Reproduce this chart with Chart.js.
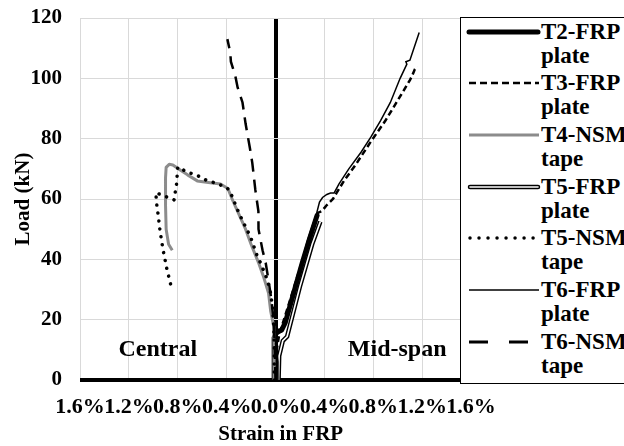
<!DOCTYPE html>
<html>
<head>
<meta charset="utf-8">
<script src="https://cdn.jsdelivr.net/npm/chart.js@4.4.1/dist/chart.umd.min.js"></script>
<style>
  html, body { margin: 0; padding: 0; background: #fff; overflow: hidden; }
  #wrap { position: relative; width: 624px; height: 446px; overflow: hidden; }
  #legend { position: absolute; left: 460px; top: 17px; width: 180px; height: 365px;
            border: 1.5px solid #000; background: #fff;
            font: bold 23px 'Liberation Serif', 'Times New Roman', serif; color: #000; }
  .row { position: absolute; left: 0; width: 180px; height: 50px; }
  .row svg { position: absolute; left: 5px; top: 0; }
  .row div { position: absolute; left: 80px; top: 0; line-height: 24px; white-space: nowrap; }
</style>
</head>
<body>
<div id="wrap">
  <canvas id="chart" width="624" height="446"></canvas>
  <div id="legend"></div>
</div>
<script>
// strain in % (negative = central gauge, plotted to the left), load in kN
var xTicks = [-1.6, -1.2, -0.8, -0.4, 0, 0.4, 0.8, 1.2, 1.6];
var yTicks = [0, 20, 40, 60, 80, 100, 120];

var t2Strain = [-0.01, -0.012, -0.01, 0.01, 0.05, 0.08, 0.15, 0.22, 0.28, 0.34];
var t2Load   = [0, 8, 14, 16, 16.5, 19, 29, 39, 47, 54.5];

var t3Strain = [0.01, 0.01, 0.03, 0.1, 0.2, 0.3, 0.35, 0.38, 0.42, 0.47, 0.5, 0.56, 0.65, 0.78, 0.9, 1.02, 1.1, 1.12, 1.14, 1.16];
var t3Load   = [0, 10, 15, 24, 37, 50, 55.5, 56, 58, 60, 62, 66, 71, 79, 86, 94, 99.4, 101, 103, 104];

var t4Strain = [-0.01, -0.012, -0.014, -0.04, -0.057, -0.1, -0.14, -0.2, -0.245, -0.3, -0.35, -0.39, -0.45, -0.55, -0.64, -0.72, -0.78, -0.84, -0.87, -0.895, -0.9, -0.9, -0.895, -0.875, -0.845];
var t4Load   = [0, 10, 17.6, 23, 28.8, 34.5, 39, 45, 50, 55, 59.5, 63.5, 65, 65.5, 66, 68, 69.6, 71.3, 71.5, 70.5, 67, 58, 50, 45, 43];

var t5fStrain = [0.025, 0.03, 0.06, 0.095, 0.2, 0.3, 0.367];
var t5fLoad   = [0, 8, 13, 14.4, 31, 45, 52.5];

var t5nStrain = [-0.01, -0.01, -0.015, -0.024, -0.04, -0.065, -0.122, -0.147, -0.204, -0.26, -0.3, -0.367, -0.394, -0.47, -0.57, -0.65, -0.73, -0.78, -0.8, -0.81, -0.83, -0.98, -0.97, -0.96, -0.944, -0.92, -0.89, -0.857, -0.843];
var t5nLoad   = [0, 12, 18, 24, 28.8, 33, 38.8, 40.8, 47.4, 52, 55.4, 62, 63.6, 65, 66.3, 68, 69, 70.3, 70.6, 65, 59.7, 62.1, 57.4, 54.7, 49.1, 43.1, 37, 31.5, 30.4];

var t6fStrain = [0.02, 0.02, 0.0, 0.01, 0.05, 0.09, 0.14, 0.2, 0.26, 0.3, 0.335, 0.36, 0.385, 0.42, 0.45, 0.48, 0.52, 0.6, 0.7, 0.78, 0.86, 0.94, 1.02, 1.075, 1.067, 1.1, 1.176];
var t6fLoad   = [0, 6, 12, 15, 16, 20, 28, 37, 46, 51, 55, 59, 60.5, 61.5, 62, 62, 65, 70, 75.5, 80.5, 86, 92, 100, 104.7, 105.5, 106, 115.2];

var t6nStrain = [0, -0.008, -0.016, -0.033, -0.057, -0.08, -0.106, -0.125, -0.139, -0.14, -0.165, -0.19, -0.21, -0.245, -0.27, -0.31, -0.33, -0.365, -0.37, -0.394];
var t6nLoad   = [0, 13, 20, 26.5, 33, 38.8, 43, 47, 50, 56, 63, 72, 77, 85, 92, 97, 101, 105.5, 108.5, 113];

var notes = [
  { text: 'Central', x: -0.963, y: 9.9 },
  { text: 'Mid-span', x: 0.996, y: 9.9 }
];

var FONT = "'Liberation Serif', 'Times New Roman', serif";

function pts(xs, ys) {
  return xs.map(function(x, i) { return { x: x, y: ys[i] }; });
}

function series(label, xs, ys, style, order) {
  return Object.assign({
    label: label,
    data: pts(xs, ys),
    showLine: true,
    pointRadius: 0,
    tension: 0,
    borderColor: '#000',
    borderWidth: 1.5,
    order: order
  }, style);
}

var datasets = [
  series('T2-FRP plate', t2Strain, t2Load, { borderWidth: 5, borderCapStyle: 'round', borderJoinStyle: 'round' }, 9),
  series('T3-FRP plate', t3Strain, t3Load, { borderWidth: 2.5, borderDash: [6, 3.5] }, 8),
  series('T4-NSM tape', t4Strain, t4Load, { borderColor: '#8c8c8c', borderWidth: 3, borderJoinStyle: 'round' }, 7),
  series('T5-FRP plate', t5fStrain, t5fLoad, { borderWidth: 4.5 }, 6),
  series('', t5fStrain, t5fLoad, { borderColor: '#fff', borderWidth: 1.6 }, 5),
  series('T5-NSM tape', t5nStrain, t5nLoad, { borderWidth: 3.5, borderDash: [0.01, 8], borderCapStyle: 'round' }, 4),
  series('T6-FRP plate', t6fStrain, t6fLoad, { borderWidth: 1.5 }, 3),
  series('T6-NSM tape', t6nStrain, t6nLoad, { borderWidth: 2.5, borderDash: [13, 8] }, 2)
];

var notesPlugin = {
  id: 'notes',
  afterDraw: function(chart) {
    var ctx = chart.ctx, xs = chart.scales.x, ys = chart.scales.y;
    ctx.save();
    ctx.font = 'bold 24px ' + FONT;
    ctx.fillStyle = '#000';
    ctx.textAlign = 'center';
    ctx.textBaseline = 'middle';
    notes.forEach(function(n) {
      ctx.fillText(n.text, xs.getPixelForValue(n.x), ys.getPixelForValue(n.y));
    });
    ctx.restore();
  }
};

function gridStyle(zeroWidth) {
  return {
    drawTicks: false,
    color: function(c) { return c.tick && c.tick.value === 0 ? '#000' : '#d9d9d9'; },
    lineWidth: function(c) { return c.tick && c.tick.value === 0 ? zeroWidth : 1; }
  };
}

new Chart(document.getElementById('chart'), {
  type: 'scatter',
  data: { datasets: datasets },
  plugins: [notesPlugin],
  options: {
    responsive: false,
    animation: false,
    layout: { padding: { top: 18, right: 153, left: 0, bottom: 0 } },
    plugins: { legend: { display: false }, tooltip: { enabled: false } },
    scales: {
      x: {
        type: 'linear', min: -1.6, max: 1.6,
        afterBuildTicks: function(s) { s.ticks = xTicks.map(function(v) { return { value: v }; }); },
        afterFit: function(s) { s.height = 66; },
        border: { display: false },
        grid: gridStyle(4),
        ticks: {
          autoSkip: false, maxRotation: 0, padding: 14, color: '#000',
          font: { family: FONT, size: 22, weight: 'bold' },
          callback: function(v) { return Math.abs(v).toFixed(1) + '%'; }
        },
        title: {
          display: true, text: '\u00a0\u00a0Strain in FRP', color: '#000', padding: 0,
          font: { family: FONT, size: 21, weight: 'bold', lineHeight: 1.1 }
        }
      },
      y: {
        type: 'linear', min: 0, max: 120,
        afterBuildTicks: function(s) { s.ticks = yTicks.map(function(v) { return { value: v }; }); },
        afterFit: function(s) { s.width = 80; s.paddingTop = 0; s.paddingBottom = 0; },
        border: { display: false },
        grid: gridStyle(4),
        ticks: {
          padding: 18, color: '#000',
          font: { family: FONT, size: 21, weight: 'bold' }
        },
        title: {
          display: true, text: 'Load (kN)', color: '#000', padding: { top: 11, bottom: 0 },
          font: { family: FONT, size: 21, weight: 'bold' }
        }
      }
    }
  }
});

// legend drawn as html so the two-line labels can wrap like the original
var legendRows = [
  { text: ['T2-FRP', 'plate'], svg: '<line x1="3" y1="12" x2="72" y2="12" stroke="#000" stroke-width="5" stroke-linecap="round"/>' },
  { text: ['T3-FRP', 'plate'], svg: '<line x1="3" y1="12" x2="73" y2="12" stroke="#000" stroke-width="2.5" stroke-dasharray="7 4"/>' },
  { text: ['T4-NSM', 'tape'], svg: '<line x1="3" y1="12" x2="73" y2="12" stroke="#8c8c8c" stroke-width="3"/>' },
  { text: ['T5-FRP', 'plate'], svg: '<line x1="4" y1="12" x2="72" y2="12" stroke="#000" stroke-width="4.5" stroke-linecap="round"/><line x1="4" y1="12" x2="72" y2="12" stroke="#fff" stroke-width="1.6" stroke-linecap="round"/>' },
  { text: ['T5-NSM', 'tape'], svg: '<line x1="4" y1="12" x2="74" y2="12" stroke="#000" stroke-width="3.5" stroke-dasharray="0.01 9" stroke-linecap="round"/>' },
  { text: ['T6-FRP', 'plate'], svg: '<line x1="3" y1="12" x2="73" y2="12" stroke="#000" stroke-width="1.5"/>' },
  { text: ['T6-NSM', 'tape'], svg: '<line x1="3" y1="12" x2="63" y2="12" stroke="#000" stroke-width="3" stroke-dasharray="19 21"/>' }
];
var legend = document.getElementById('legend');
legendRows.forEach(function(r, i) {
  var row = document.createElement('div');
  row.className = 'row';
  row.style.top = (1.5 + i * 51.7) + 'px';
  row.innerHTML = '<svg width="76" height="24">' + r.svg + '</svg><div>' + r.text.join('<br>') + '</div>';
  legend.appendChild(row);
});
</script>
</body>
</html>
